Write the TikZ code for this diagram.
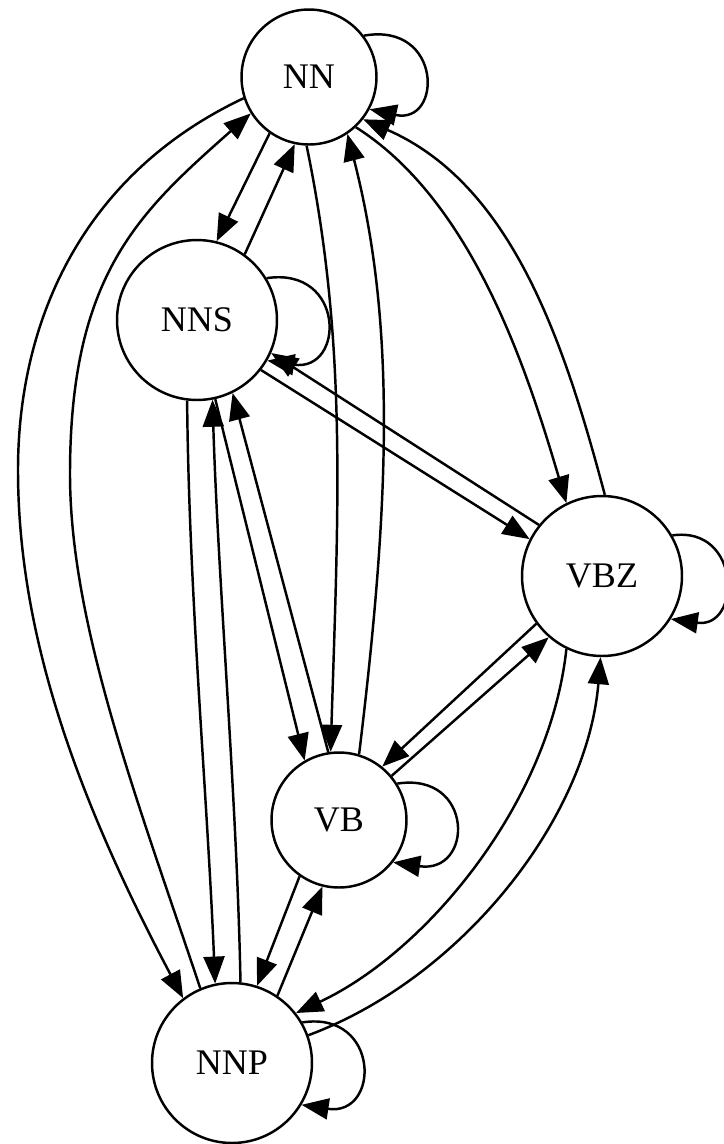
\documentclass[tikz,border=0pt]{standalone}
\usepackage{fontspec}
\setmainfont{Liberation Serif}
\usetikzlibrary{arrows.meta}

\begin{document}
\begin{tikzpicture}[x=0.02cm, y=-0.02cm,
        st/.style={circle, draw, line width=1.4pt, inner sep=0pt, font=\fontsize{20.5}{24}\selectfont},
        sm/.style={st, minimum size=2.7cm},
        lg/.style={st, minimum size=3.2cm},
        ed/.style={-{Triangle[length=0.54cm, width=0.42cm]}, line width=1.4pt}]
    \useasboundingbox (0,0) rectangle (724,1144);
    \node[sm] (nn)  at (309,77)   {NN};
    \node[lg] (nns) at (197,320)  {NNS};
    \node[lg] (vbz) at (602,576)  {VBZ};
    \node[sm] (vb)  at (339,820)  {VB};
    \node[lg] (nnp) at (232,1063) {NNP};
    % Self loops
    \draw[ed] (nn.37) .. controls +(79,-14) and +(73,16) .. (nn.-28);
    \draw[ed] (nns.31) .. controls +(79,-12) and +(78,12) .. (nns.-30);
    \draw[ed] (vbz.30) .. controls +(69,-10) and +(71,10) .. (vbz.-32);
    \draw[ed] (vb.32) .. controls +(77,-12) and +(81,12) .. (vb.-38);
    \draw[ed] (nnp.30) .. controls +(78,-12) and +(79,12) .. (nnp.-31);
    % NN <-> NNS
    \draw[ed] (nn.-125) -- (nns.76);
    \draw[ed] (nns.54) -- (nn.-102);
    % NN <-> NNP
    \draw[ed] (nn.198) .. controls (83,174) and (18,320) .. (18,470)
        .. controls (18,620) and (66.5,779) .. (nnp.127);
    \draw[ed] (nnp.113) .. controls (137,799) and (70,624) .. (70,474)
        .. controls (70,274) and (139.5,212) .. (nn.-148);
    % NN <-> VB
    \draw[ed] (nn.-92) .. controls (347,341) and (338.5,503) .. (vb.97);
    \draw[ed] (vb.73) .. controls (389,508) and (397,327) .. (nn.-56);
    % NN <-> VBZ
    \draw[ed] (nn.-47) .. controls (475,202.5) and (529.3,378) .. (vbz.116);
    \draw[ed] (vbz.88) .. controls (565,345.7) and (513.3,184.8) .. (nn.-38);
    % NNS <-> VBZ
    \draw[ed] (nns.-38) -- (vbz.153);
    \draw[ed] (vbz.141) -- (nns.-24);
    % NNS <-> VB
    \draw[ed] (nns.-77) -- (vb.120);
    \draw[ed] (vb.99) -- (nns.-64);
    % NNS <-> NNP
    \draw[ed] (nns.-97) .. controls (189,595) and (207,790) .. (nnp.102);
    \draw[ed] (nnp.84) .. controls (237,800) and (218,580) .. (nns.-79);
    % VBZ <-> VB
    \draw[ed] (vbz.-144) -- (vb.51);
    \draw[ed] (vb.40) -- (vbz.-131);
    % VBZ <-> NNP
    \draw[ed] (vbz.-116) .. controls (549.8,803) and (426.2,952) .. (nnp.38);
    \draw[ed] (nnp.20) .. controls (462,978) and (587,818.7) .. (vbz.-91);
    % VB <-> NNP
    \draw[ed] (vb.-125) -- (nnp.72);
    \draw[ed] (nnp.56) -- (vb.-104);
\end{tikzpicture}
\end{document}
